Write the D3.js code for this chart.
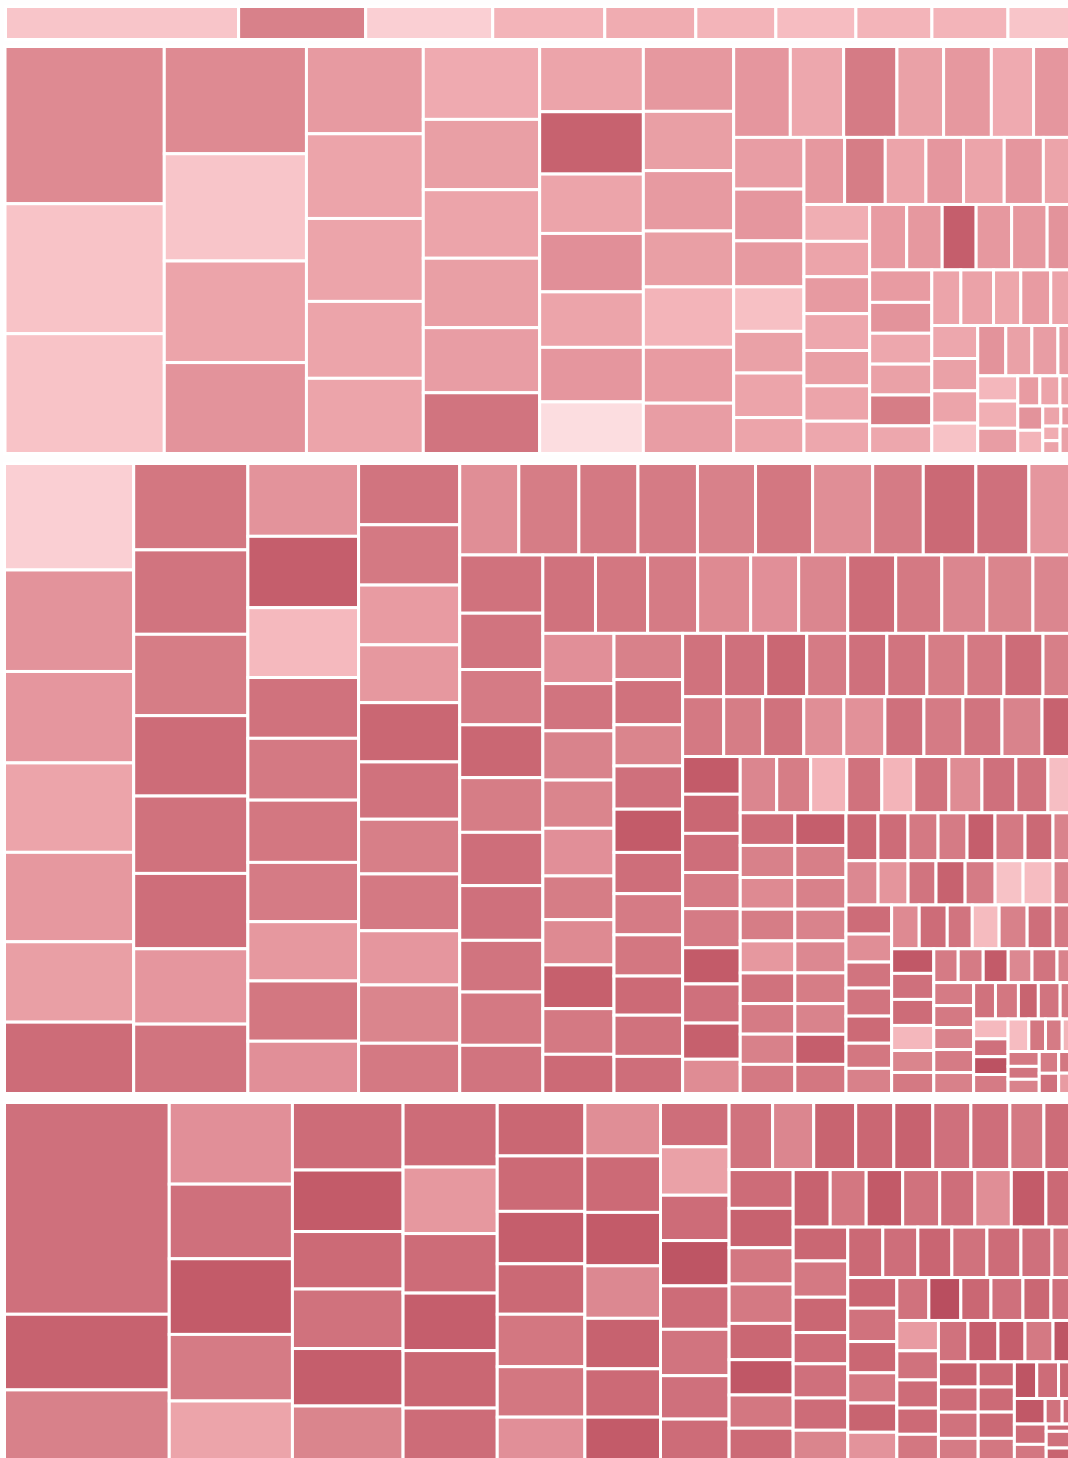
<!DOCTYPE html>
<html><head><meta charset="utf-8">
<script src="https://cdn.jsdelivr.net/npm/d3@7"></script>
<style>html,body{margin:0;padding:0;background:#fefefe;} svg{display:block;}</style>
</head><body>
<svg id="chart" width="1068" height="1458"></svg>
<script>
// ---- Band 1 (thin top strip): one row of cells ----
const band1Values = [233,127,127,112,91,80,80,76,76,67];
const band1Shades = [2,6,1.5,3,3.5,3,2.5,3,3,2];

// ---- Band 2: strips (c = column, r = row), each strip = cell values ----
const band2Values = [
  [248,205,189],
  [151,151,143,128],
  [101,98,96,89,87],
  [84,81,79,80,75,70],
  [67,64,61,60,57,56,53],
  [58,53,54,50,54,50,45],
  [51,48,48,42,43,38,40],
  [36,36,32,31,29,31,25],
  [27,27,27,25,27,26,23],
  [24,23,24,24,23,23,21],
  [24,23,22,23,23,20],
  [20,19,19,19,19,17],
  [16,18,15,16.5,15],
  [15,14.7,14.7,13.8],
  [14,13,13,10],
  [10,10.8,10],
  [6.6,6,5.4],
  [6,5.75],
  [3.6,3.4],
  [2.5,2.2],
  [2.6,2.26]
];
const band2Dirs = "ccccccrcrcrcrcrcrcrcr";
const band2Shades = [
  [5.5,2.1,2.1],
  [5.5,2,4,5],
  [4.6,4,4,4,4],
  [3.6,4.3,4,4.3,4.4,6.6],
  [4,7.6,4,5.2,4,4.8,0.8],
  [4.7,4.3,4.6,4.3,3,4.5,4.4],
  [4.8,3.8,6.3,4.2,4.7,3.6,4.8],
  [4.4,4.8,4.6,2.3,4.2,4,4],
  [4.7,6.2,4,4.8,4,4.8,4],
  [3.4,4,4.6,3.8,4.3,4,3.8],
  [4.5,4.7,7.8,4.7,4.7,5],
  [4.5,5,3.8,4.2,6.2,3.8],
  [4,4.1,3.9,4.5,4],
  [3.8,4.2,4,2.2],
  [5,4.2,4.4,4.5],
  [2.8,3.3,4.4],
  [4.5,4,4.2],
  [5,3],
  [4,4.5],
  [3.5,4],
  [4.2,4]
];

// ---- Band 3 ----
const band3Values = [
  [136.7,130.3,117.4,114.8,114.8,103.2,91.6],
  [98,95.8,92.3,91.2,87.8,85.5,85.5,78.7],
  [80.1,78.5,76.8,66.9,68,68.5,65.2,65.2,66.3,57.5],
  [61.6,60.6,60.1,58.1,59.6,57.6,55,57.1,54.5,58.6,50.5],
  [53.7,54.6,53.7,54.1,52.8,51.9,54.6,46,47.8,48.2,41],
  [48.1,46.5,45.7,43.6,45.2,44,45.2,42.7,44,39.8],
  [41,40.6,39,41.3,37.4,38.2,37.4,35.9,35.1,35.9,32],
  [35.5,33.4,34.8,34.1,33.7,30.9,32,30.9,32.3,27.7],
  [31.5,30.8,28.1,29.5,29.5,28.1,28.1,28.1,26.7,28.1,25.3],
  [25.8,26.5,25.8,25.8,24.6,25.2,24.6,23.9,24.6,19.5],
  [24.4,23.2,24.4,23.8,24.4,23.2,23.2,23.2,23.8,19],
  [21.6,22.4,22.4,20.7,22.4,20.7,22.4,20.7,19.6],
  [20.4,19,20.2,19.6,17.9,19.6,18.5,19,17.9,14.6],
  [17.7,17.4,17.2,17.2,17.4,16.6,16.6,16.4,15.8],
  [16.6,16.3,16.1,16.1,16.3,15.6,15.6,15.3,14.8],
  [15.2,14.3,14.3,13.8,13.3,14.3,13.3,10],
  [14.1,13.2,12.3,12.8,13.2,12.3,13.2,9.2],
  [13.2,12.7,11.8,12.7,12.3,11.4,11.4],
  [12,12.2,10.9,11.7,12.2,11.3,9.1],
  [10.3,10.9,10.9,10.5,9.2,8.8],
  [8.2,8.4,8.4,8,8.4,5.7],
  [9.1,8.7,8.7,9.1,8.3],
  [7.9,8.3,7.2,7.9,5],
  [6.8,6.1,6.1,6.5],
  [6.7,5.4,5.4,3.8],
  [4.6,4,4.4],
  [4.2,3.9],
  [3.3,3.1]
];
const band3Dirs = "ccccrcrccrrcrccrrcrcrcrcrccc";
const band3Shades = [
  [1.5,5,4.8,4,4.7,4.3,7],
  [6.5,6.6,6.2,7,6.7,6.9,4.8,6.6],
  [5,7.8,2.7,6.7,6.4,6.5,6.3,4.7,6.5,5.2],
  [6.6,6.4,4.5,4.7,7.3,6.7,6.1,6.4,4.8,5.8,6.4],
  [5.3,6.2,6.4,6.3,6,6.5,5.3,6.3,7.2,6.8,4.8],
  [6.7,6.6,6.3,7.3,6.2,6.9,6.8,6.6,6.4,6.6],
  [6.7,6.5,6.3,5.5,5.2,5.7,7,6.4,5.7,5.8,5.7],
  [5.2,6.6,5.9,5.8,5.2,6.2,5.5,7.7,6.4,7.1],
  [6,6.7,5.8,6.8,8,6.9,6.3,6.5,7.1,6.7,6.9],
  [6.7,6.8,7.3,6.3,6.8,6.6,6.2,6.4,7,6.1],
  [6.4,6.2,6.7,5.3,5.1,6.8,6.3,6.6,5.9,7.6],
  [8,7.3,6.9,6.3,6.3,8,6.8,7.7,5.4],
  [5.7,6.2,3,6.7,3,6.7,5.4,6.8,6.7,2.4],
  [7,6,5.5,6.2,4.7,6.7,6.3,6,6.4],
  [7.8,6.1,6,5.9,5.6,6.2,5.9,7.8,6.5],
  [7.3,7,6.4,6.3,7.8,6.4,7.2,5.9],
  [5.6,4.9,6.6,7.6,6.3,2.2,2.5,5.9],
  [7,5.3,6.6,6.6,7.1,6.5,6],
  [5.5,7,6.6,2.6,6,6.9,6.4],
  [8.2,6.8,7,2.8,5.8,6.4],
  [6.3,6.3,8,5.6,6.6,5.9],
  [6.3,6.4,5.9,6.3,6],
  [6.7,6.5,7.5,6.6,6.4],
  [2.7,6.8,8.7,6.3],
  [2.5,6.5,6.3,3],
  [6.4,6.6,5.9],
  [6.3,6.8],
  [6.5,4.5]
];

// ---- Band 4 ----
const band4Values = [
  [345.5,123.4,116.8],
  [99.6,91,92.3,81.2,73.8],
  [74,67.4,63,65.2,63,60.8],
  [60.2,62,55.5,53.6,53.6,49.8],
  [46.4,48.1,45.5,43.8,45.5,43.8,38.5],
  [40,42.3,40,39.3,37.8,36.2,33.2],
  [30.1,32.9,30.8,30.8,29.5,31.5,29.5,28.8],
  [28.9,27.3,27.9,25.3,25.9,25.3,25.9,22.6,20],
  [24.6,25,23,25,23,22.4,21.1,21.1],
  [21.1,20.5,20.8,21.1,20,20.8,19.7,16],
  [18.3,19.6,19.1,16.9,18.5,17.4,16.9],
  [17.5,17.5,17,17.5,17,15.5,11],
  [14.9,16.2,15.2,14.7,14.2,14.2],
  [13.6,13.6,12.8,13.6,11.9,9.8],
  [12.5,12,11.6,10.8,11.2],
  [12.1,12.3,11.1,11.5,8.6],
  [9.9,9.9,10.3,9.1],
  [9,9,9.4,8.3],
  [8.1,7.9,5.6],
  [7.8,4.3,3],
  [6.4,5.4],
  [2,4.6,3.7]
];
const band4Dirs = "cccccccrcrcrcrcrccrrcc";
const band4Shades = [
  [6.8,7.6,6],
  [5.2,6.8,8,6.3,4],
  [7,8,7.1,6.7,7.8,5.8],
  [7,4.7,7,7.8,7.3,7],
  [7.3,7.1,7.8,7.2,6.5,6.5,5.2],
  [5.3,7.1,8,5.6,7.6,7.1,8],
  [6.9,4.2,7,8.5,7,6.6,6.8,7],
  [6.7,5.7,7.5,7.3,7.6,6.8,6.9,6.4,7],
  [7,7.6,6.5,6.4,7.3,8.3,6.5,7.1],
  [7.6,6.5,8.1,6.7,6.9,5.3,8,7.2],
  [7.3,6.4,7.3,7,6.8,7,5.8],
  [7.2,6.9,7.4,6.7,7,6.8,6.4],
  [7.4,6.7,7.3,6.4,7.5,5],
  [6.7,9,7.3,6.8,7.3,6.8],
  [4.5,6.7,7,7.1,6.5],
  [6.7,7.8,7.8,6.4,8.5],
  [7.6,7,6.7,6.3],
  [7.3,7.1,7.2,6.5],
  [8.5,7,7.3],
  [8.2,6.7,7],
  [7,6.5],
  [7.2,6.8,7.5]
];

// ---- colour ramp (shade 0 = palest, 10 = deepest rose) ----
const shadeSteps = [0,1,2,3,4,5,6,7,8,9,10];
const shadeColors = ["#fee9ec","#fcdadd","#f8c5c9","#f3b4b9","#eca4aa","#e3939b","#d8818a","#cd6c78","#c35b69","#b94e5f","#ae4456"];
const color = d3.scaleLinear().domain(shadeSteps).range(shadeColors).interpolate(d3.interpolateLab);

const svg = d3.select("#chart");

// squarify-like tiling with explicit strip orientation
function stripTile(dirs) {
  return function(node, x0, y0, x1, y1) {
    if (node.depth === 0) {
      let remaining = node.value;
      node.children.forEach((s, i) => {
        const f = remaining ? s.value / remaining : 0;
        s.dir = dirs[i];
        if (dirs[i] === "r") {
          const yy = y0 + (y1 - y0) * f;
          s.x0 = x0; s.x1 = x1; s.y0 = y0; s.y1 = yy; y0 = yy;
        } else {
          const xx = x0 + (x1 - x0) * f;
          s.x0 = x0; s.x1 = xx; s.y0 = y0; s.y1 = y1; x0 = xx;
        }
        remaining -= s.value;
      });
    } else {
      (node.dir === "r" ? d3.treemapDice : d3.treemapSlice)(node, x0, y0, x1, y1);
    }
  };
}

function drawLeaves(root, x0, y0) {
  const g = svg.append("g").attr("transform", `translate(${x0},${y0})`);
  g.selectAll("rect").data(root.leaves()).join("rect")
    .attr("x", d => d.x0).attr("y", d => d.y0)
    .attr("width", d => Math.max(0, d.x1 - d.x0))
    .attr("height", d => Math.max(0, d.y1 - d.y0))
    .attr("fill", d => color(d.data.shade))
    .attr("stroke", "#ffffff").attr("stroke-width", 3);
}

function drawBand(values, shades, dirs, x0, y0, x1, y1) {
  const root = d3.hierarchy({children: values.map((s, i) => ({children: s.map((v, j) => ({value: v, shade: shades[i][j]}))}))})
    .sum(d => d.children ? 0 : d.value);
  d3.treemap().size([x1 - x0, y1 - y0]).tile(stripTile(dirs))(root);
  drawLeaves(root, x0, y0);
}

// Band 1: single row
(function() {
  const root = d3.hierarchy({children: band1Values.map((v, i) => ({value: v, shade: band1Shades[i]}))})
    .sum(d => d.children ? 0 : d.value);
  d3.treemap().size([1075 - 5.5, 39.5 - 6.5]).tile(d3.treemapDice)(root);
  drawLeaves(root, 5.5, 6.5);
})();

drawBand(band2Values, band2Shades, band2Dirs, 5, 46.5, 1078, 453.5);
drawBand(band3Values, band3Shades, band3Dirs, 4.5, 463.5, 1074, 1093.5);
drawBand(band4Values, band4Shades, band4Dirs, 4.5, 1102.5, 1074, 1461.5);
</script>
</body></html>
